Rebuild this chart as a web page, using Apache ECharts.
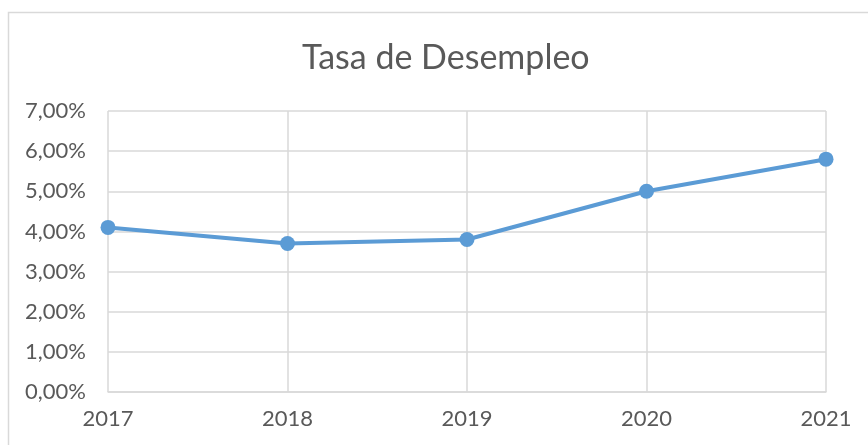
<!DOCTYPE html>
<html>
<head>
<meta charset="utf-8">
<script src="https://cdn.jsdelivr.net/npm/echarts@6/dist/echarts.min.js"></script>
<style>
  html, body { margin: 0; padding: 0; background: #fff; }
  #chart { width: 868px; height: 445px; }
</style>
</head>
<body>
<div id="chart"></div>
<script>
const years = ["2017", "2018", "2019", "2020", "2021"];
const desempleo = [4.1, 3.7, 3.8, 5.0, 5.8];

const myChart = echarts.init(document.getElementById("chart"));
const option = {
  animation: false,
  backgroundColor: "#ffffff",
  textStyle: { fontFamily: "Lato" },
  graphic: [
    {
      // marco del grafico
      type: "rect",
      shape: { x: 8.5, y: 12.5, width: 900, height: 500 },
      style: { fill: "none", stroke: "#d9d9d9", lineWidth: 1.5 },
      silent: true,
    },
  ],
  title: {
    text: "Tasa de Desempleo",
    left: 297,
    top: 36,
    textStyle: { fontFamily: "Lato", fontSize: 34, fontWeight: "normal", color: "#595959" },
  },
  grid: { left: 108, right: 42, top: 111, bottom: 53 },
  xAxis: {
    type: "category",
    data: years,
    boundaryGap: false,
    axisLine: { lineStyle: { color: "#d9d9d9", width: 1.5 } },
    axisTick: { show: false },
    axisLabel: { color: "#595959", fontSize: 22, margin: 16 },
    splitLine: { show: true, lineStyle: { color: "#d9d9d9", width: 1.5 } },
  },
  yAxis: {
    type: "value",
    min: 0,
    max: 7,
    interval: 1,
    axisLine: { show: false },
    axisTick: { show: false },
    axisLabel: {
      color: "#595959",
      fontSize: 22,
      margin: 22,
      formatter: function (v) {
        return v.toFixed(2).replace(".", ",") + "%";
      },
    },
    splitLine: { lineStyle: { color: "#d9d9d9", width: 1.5 } },
  },
  series: [
    {
      name: "Tasa de Desempleo",
      type: "line",
      data: desempleo,
      symbol: "circle",
      symbolSize: 15,
      itemStyle: { color: "#5b9bd5" },
      lineStyle: { color: "#5b9bd5", width: 4 },
    },
  ],
};
myChart.setOption(option);
</script>
</body>
</html>
